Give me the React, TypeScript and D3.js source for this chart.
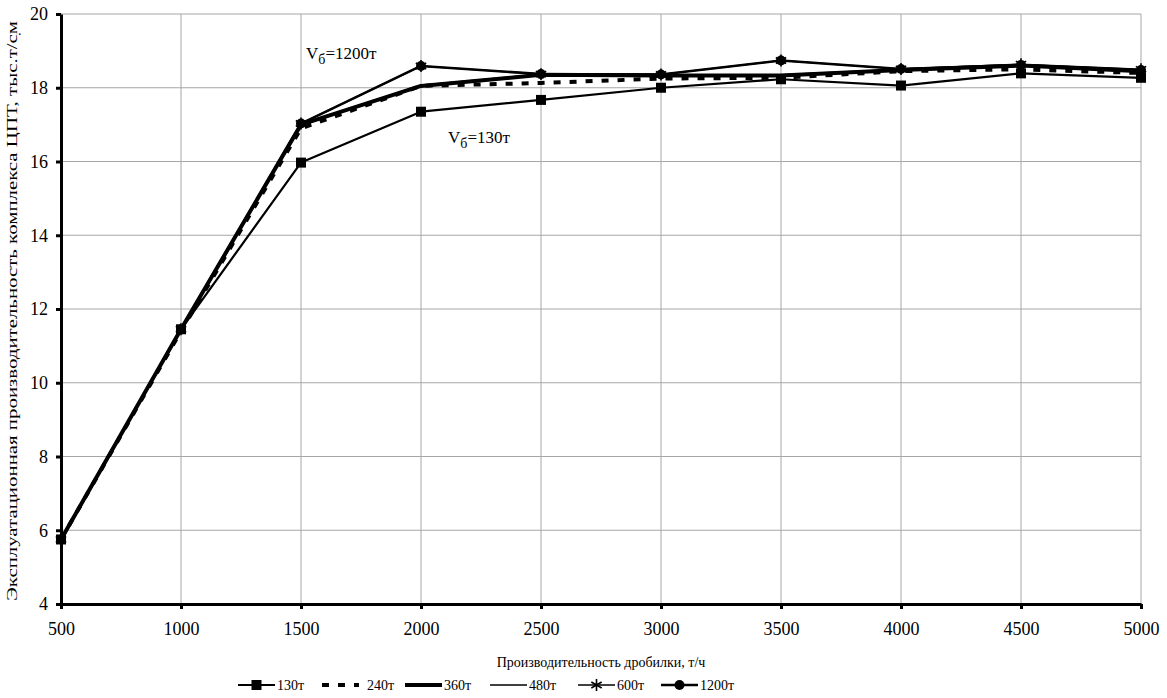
import React, { useEffect, useRef } from "react";
import * as d3 from "d3";

const xValues = [500, 1000, 1500, 2000, 2500, 3000, 3500, 4000, 4500, 5000];
const s130 = [5.75, 11.45, 15.97, 17.35, 17.67, 18.0, 18.23, 18.06, 18.39, 18.27];
const s240 = [5.75, 11.4, 16.9, 18.05, 18.13, 18.25, 18.27, 18.45, 18.5, 18.4];
const s360 = [5.75, 11.45, 17.0, 18.05, 18.35, 18.33, 18.33, 18.48, 18.6, 18.45];
const s480 = [5.75, 11.45, 17.02, 18.07, 18.37, 18.35, 18.35, 18.5, 18.6, 18.47];
const s600 = [5.75, 11.45, 17.03, 18.59, 18.37, 18.36, 18.74, 18.51, 18.64, 18.5];
const s1200 = [5.75, 11.45, 17.03, 18.59, 18.37, 18.36, 18.74, 18.51, 18.62, 18.48];
const seriesNames = ["130т", "240т", "360т", "480т", "600т", "1200т"];
const yTicks = [4, 6, 8, 10, 12, 14, 16, 18, 20];

const FONT = "Liberation Serif, Times New Roman, serif";

type Style = { width: number; dash?: string; marker?: "square" | "star" | "circle" };
const styles: Style[] = [
    { width: 2.2, marker: "square" },
    { width: 4, dash: "7,9" },
    { width: 4 },
    { width: 1.5 },
    { width: 1.5, marker: "star" },
    { width: 2.5, marker: "circle" }
];

function drawMarker(g: any, kind: string | undefined, cx: number, cy: number) {
    if (kind === "square") {
        g.append("rect").attr("x", cx - 5).attr("y", cy - 5).attr("width", 10).attr("height", 10).attr("fill", "#000");
    } else if (kind === "circle") {
        g.append("circle").attr("cx", cx).attr("cy", cy).attr("r", 5).attr("fill", "#000");
    } else if (kind === "star") {
        g.append("path")
            .attr("d", d3.symbol().type(d3.symbolAsterisk).size(100)())
            .attr("transform", `translate(${cx},${cy})`)
            .attr("fill", "none").attr("stroke", "#000").attr("stroke-width", 1.6);
    }
}

function App() {
    const chart = useRef<SVGSVGElement>(null);

    useEffect(() => {
        const margin = { top: 14, right: 26, bottom: 94, left: 61 };
        const W = 1167, H = 698;
        const width = W - margin.left - margin.right;
        const height = H - margin.top - margin.bottom;
        const root = d3.select(chart.current).attr("width", W).attr("height", H);
        const svg = root.append("g").attr("transform", `translate(${margin.left},${margin.top})`);

        const x = d3.scaleLinear().domain([500, 5000]).range([0, width]);
        const y = d3.scaleLinear().domain([4, 20]).range([height, 0]);

        // grid
        svg.selectAll(".hgrid").data(yTicks).enter().append("line")
            .attr("x1", 0).attr("x2", width).attr("y1", d => y(d)).attr("y2", d => y(d))
            .attr("stroke", "#a6a6a6").attr("stroke-width", 1);
        svg.selectAll(".vgrid").data(xValues).enter().append("line")
            .attr("x1", d => x(d)).attr("x2", d => x(d)).attr("y1", 0).attr("y2", height)
            .attr("stroke", "#a6a6a6").attr("stroke-width", 1);

        // axes
        const yAxis = d3.axisLeft(y).tickValues(yTicks).tickFormat(d3.format("d")).tickSize(5).tickSizeOuter(0).tickPadding(8);
        const yg = svg.append("g").call(yAxis);
        const xAxis = d3.axisBottom(x).tickValues(xValues).tickFormat(d3.format("d")).tickSize(5).tickSizeOuter(0).tickPadding(13);
        const xg = svg.append("g").attr("transform", `translate(0,${height})`).call(xAxis);
        [yg, xg].forEach(g => {
            g.attr("font-family", FONT).attr("font-size", 18);
            g.select(".domain").attr("stroke", "#000").attr("stroke-width", 3);
            g.selectAll(".tick line").attr("stroke", "#000").attr("stroke-width", 3);
            g.selectAll("text").attr("fill", "#000");
        });

        // series
        const all = [s130, s240, s360, s480, s600, s1200];
        const line = d3.line<number>().x((d, i) => x(xValues[i])).y(d => y(d));
        all.forEach((vals, k) => {
            const st = styles[k];
            svg.append("path").datum(vals).attr("d", line)
                .attr("fill", "none").attr("stroke", "#000")
                .attr("stroke-width", st.width)
                .attr("stroke-dasharray", st.dash || null)
                .attr("stroke-linejoin", "round");
        });
        all.forEach((vals, k) => {
            const mg = svg.append("g");
            vals.forEach((v, i) => drawMarker(mg, styles[k].marker, x(xValues[i]), y(v)));
        });

        // annotations
        const ann = (tx: number, ty: number, label: string) => {
            const t = svg.append("text").attr("x", tx).attr("y", ty)
                .attr("font-family", FONT).attr("font-size", 17).attr("fill", "#000");
            t.append("tspan").text("V");
            t.append("tspan").attr("dy", 5).attr("font-size", 14).text("б");
            t.append("tspan").attr("dy", -5).text(label);
        };
        ann(x(1500) + 5, 45, "=1200т");
        ann(x(2000) + 27, 129, "=130т");

        // axis titles
        root.append("text").attr("x", margin.left + width / 2).attr("y", 667)
            .attr("text-anchor", "middle").attr("font-family", FONT).attr("font-size", 14)
            .text("Производительность дробилки, т/ч");
        root.append("text")
            .attr("transform", `translate(17,${margin.top + height / 2 + 2}) rotate(-90)`)
            .attr("text-anchor", "middle").attr("font-family", FONT).attr("font-size", 15)
            .attr("textLength", 580).attr("lengthAdjust", "spacingAndGlyphs")
            .text("Эксплуатационная производительность комплекса ЦПТ, тыс.т/см");
        root.append("text").attr("x", 18).attr("y", 35).attr("font-family", FONT).attr("font-size", 14).text(".");

        // legend
        const legendX = [238, 322, 405, 490, 578, 661];
        const ly = 685;
        seriesNames.forEach((name, k) => {
            const st = styles[k];
            const lg = root.append("g");
            const x0 = legendX[k];
            const x1 = x0 + 37;
            lg.append("line").attr("x1", x0).attr("x2", x1).attr("y1", ly).attr("y2", ly)
                .attr("stroke", "#000").attr("stroke-width", st.width)
                .attr("stroke-dasharray", st.dash || null);
            drawMarker(lg, st.marker, (x0 + x1) / 2, ly);
            lg.append("text").attr("x", x1 + (k === 1 ? 8 : 2)).attr("y", ly + 5)
                .attr("font-family", FONT).attr("font-size", 14).text(name);
        });

        return () => {
            root.selectAll("*").remove();
        };
    }, []);

    return (
        <svg ref={chart} style={{ position: "absolute", left: 0, top: 0 }}></svg>
    );
}

export default App;
